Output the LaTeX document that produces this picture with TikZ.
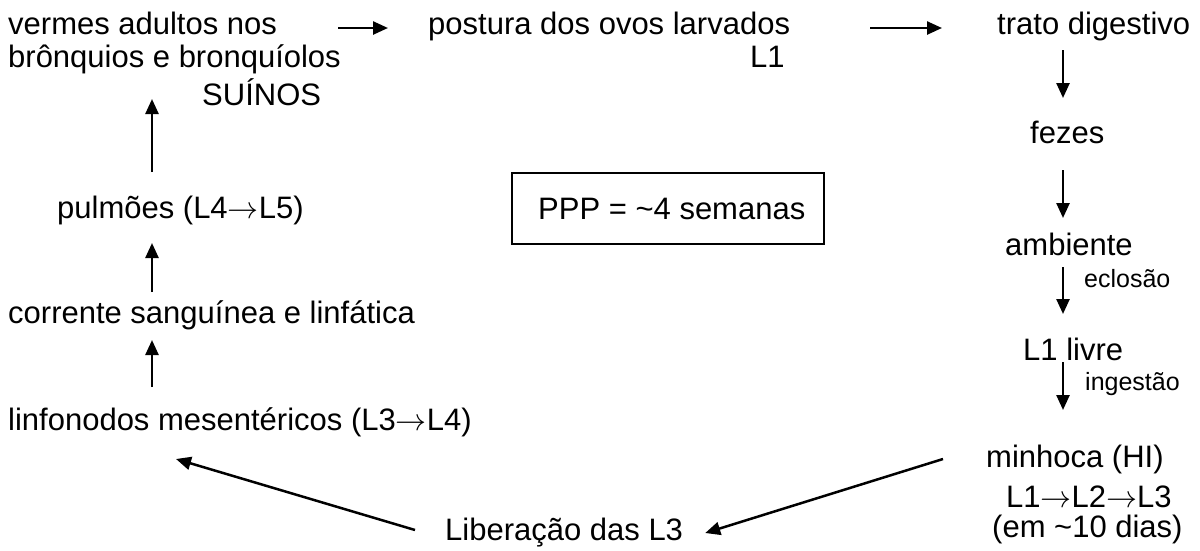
\documentclass[tikz,border=0pt]{standalone}
\usepackage{graphicx}
\usepackage{fontspec}
\setmainfont{Liberation Sans}
\usetikzlibrary{arrows.meta,calc}
\newcommand{\myrarrow}{\scalebox{1.246}{\fontsize{24.88}{30}\selectfont$\rightarrow$}}
\tikzset{
  txt/.style={inner sep=0pt, anchor=base west, font=\fontsize{31}{36}\selectfont},
  small/.style={inner sep=0pt, anchor=base west, font=\fontsize{25}{30}\selectfont},
  arr/.style={line width=2.5pt, -{Triangle[length=15pt,width=13pt]}},
  framebox/.style={draw, line width=1.5pt, inner sep=0pt, minimum width=312pt, minimum height=71pt, anchor=north west},
}
\begin{document}
\begin{tikzpicture}[x=1pt,y=-1pt]
\useasboundingbox (0,0) rectangle (1200,550);
\coordinate (xr) at (1063,0);
\coordinate (xl) at (152,0);
% top-left block
\node[txt] (v1) at (8,34) {vermes adultos nos};
\node[txt] (v2) at (8,67) {brônquios e bronquíolos};
\node[txt] (v3) at (202,105) {SUÍNOS};
% top row
\node[txt] (post) at (428,34) {postura dos ovos larvados};
\node[txt] (pl1) at (750,67) {L1};
\node[txt] (trato) at (997,34) {trato digestivo};
% right column
\node[txt] (fezes) at (1030,143) {fezes};
\node[txt] (amb) at (1005,255) {ambiente};
\node[small] (ecl) at (1084,287) {eclosão};
\node[txt] (livre) at (1023,360) {L1 livre};
\node[small] (ing) at (1085,390) {ingestão};
\node[txt] (minh) at (986,467) {minhoca (HI)};
\node[txt] (larv) at (1006,507) {L1\myrarrow L2\myrarrow L3};
\node[txt] (dias) at (992,537) {(em \textasciitilde10 dias)};
% bottom
\node[txt] (lib) at (445,540) {Liberação das L3};
% left column
\node[txt] (linf) at (8,430) {linfonodos mesentéricos (L3\myrarrow L4)};
\node[txt] (corr) at (8,323) {corrente sanguínea e linfática};
\node[txt] (pulm) at (57,218) {pulmões (L4\myrarrow L5)};
% box
\node[framebox] (box) at (511,172) {};
\node[txt] (ppp) at (538,219) {PPP = \textasciitilde4 semanas};
% connectors
\draw[arr] ($(v1.base east)+(61,-6)$) -- ($(post.base west)+(-40,-6)$);
\draw[arr] ($(post.base east)+(80,-6)$) -- ($(trato.base west)+(-55,-6)$);
\draw[arr] ($(trato.base -| xr)+(0,16)$) -- ($(fezes.base -| xr)+(0,-45)$);
\draw[arr] ($(fezes.base -| xr)+(0,27)$) -- ($(amb.base -| xr)+(0,-37)$);
\draw[arr] ($(amb.base -| xr)+(0,12)$) -- ($(livre.base -| xr)+(0,-46)$);
\draw[arr] ($(livre.base -| xr)+(0,2)$) -- ($(minh.base -| xr)+(0,-57)$);
\draw[arr] ($(minh.base west)+(-43,-8)$) -- ($(lib.base east)+(22,-7)$);
\draw[arr] ($(lib.base west)+(-30,-10)$) -- ($(linf.base west)+(168,29)$);
\draw[arr] ($(linf.base -| xl)+(0,-43)$) -- ($(corr.base -| xl)+(0,17)$);
\draw[arr] ($(corr.base -| xl)+(0,-31)$) -- ($(pulm.base -| xl)+(0,25)$);
\draw[arr] ($(pulm.base -| xl)+(0,-46)$) -- ($(v3.base -| xl)+(0,-6)$);
\end{tikzpicture}
\end{document}
